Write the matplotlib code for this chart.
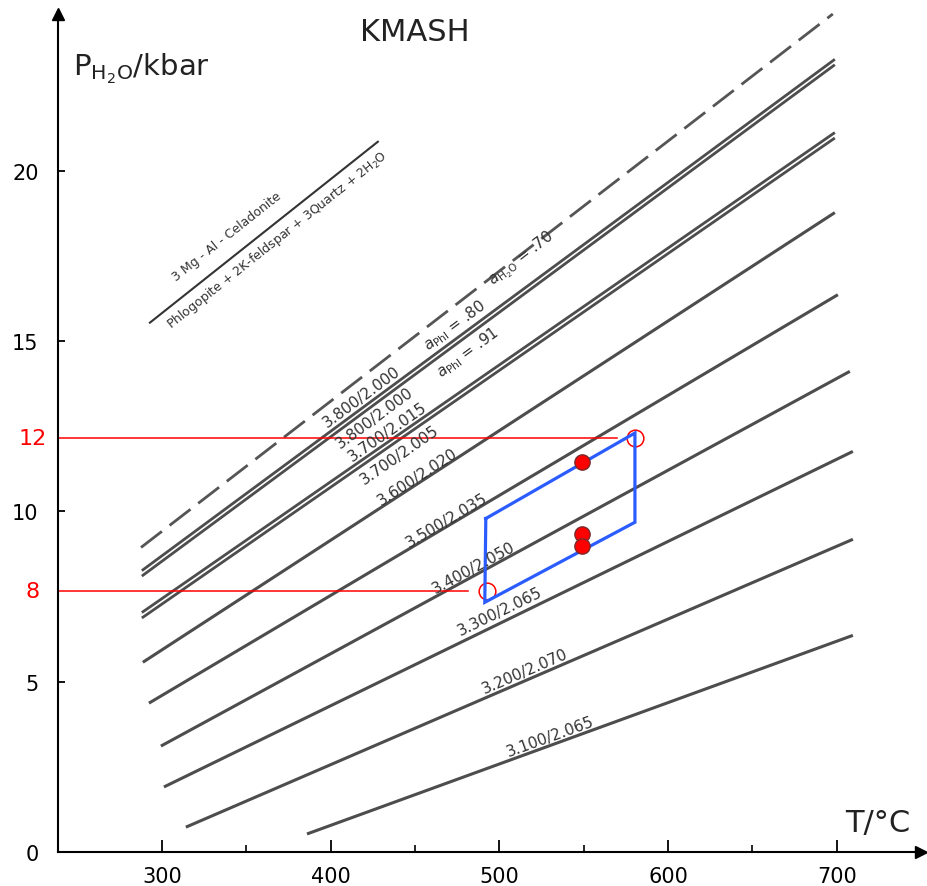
import numpy as np
import matplotlib
matplotlib.use("Agg")
import matplotlib.pyplot as plt

# single isopleths (Si / Al labels), end points in T (degC) / P (kbar)
iso_names = ["3.600/2.020", "3.500/2.035", "3.400/2.050",
             "3.300/2.065", "3.200/2.070", "3.100/2.065"]
iso_t0 = [288.7, 292.3, 299.4, 301.2, 314.2, 386.0]
iso_p0 = [5.57, 4.37, 3.11, 1.91, 0.73, 0.53]
iso_t1 = [698.9, 700.7, 707.8, 709.6, 709.6, 709.6]
iso_p1 = [18.77, 16.36, 14.11, 11.76, 9.18, 6.36]
iso_lab_t = [451.7, 468.9, 484.9, 500.4, 515.2, 530.0]
iso_lab_p = [11.03, 9.74, 8.36, 7.07, 5.31, 3.40]

# double isopleths (a_Phl = .80 / .91)
pair_t0 = [288.1, 288.1]
pair_p0 = [8.18, 6.95]
pair_t1 = [698.9, 698.9]
pair_p1 = [23.19, 21.04]
pair_gap = 0.16
pair_names = [["3.800/2.000", "3.800/2.000"], ["3.700/2.015", "3.700/2.005"]]
pair_lab_t = [[418.6, 426.3], [434.0, 441.1]]
pair_lab_p = [[13.37, 12.76], [12.35, 11.67]]

# a_H2O = .70 dashed line
h2o_t = [287.6, 697.7]
h2o_p = [8.94, 24.60]

# reaction line
rx_t = [292.9, 428.0]
rx_p = [15.54, 20.85]

# overlay: P-T box, sample points, pressure marks
box_t = [492.0, 491.4, 580.4, 580.4, 492.0]
box_p = [9.79, 7.33, 9.68, 12.30, 9.79]
pts_t = [549.0, 549.0, 549.0]
pts_p = [11.44, 9.33, 8.97]
mark_t = [580.4, 492.6]
mark_p = [12.15, 7.65]
mark_line_end = [569.7, 481.4]
mark_labels = ["12", "8"]

fig = plt.figure(figsize=(9.28, 8.87), dpi=100)
ax = fig.add_axes([0.0625, 0.0383, 0.930, 0.9448])
ax.set_xlim(238.4, 750)
ax.set_ylim(0, 24.6)

for s in ["top", "right"]:
    ax.spines[s].set_visible(False)
for s in ["left", "bottom"]:
    ax.spines[s].set_linewidth(1.5)
ax.plot(1, 0, ">k", ms=9, transform=ax.transAxes, clip_on=False)
ax.plot(0, 1, "^k", ms=9, transform=ax.transAxes, clip_on=False)

ax.set_xticks([300, 400, 500, 600, 700])
ax.set_xticks([350, 450, 550, 650], minor=True)
ax.set_yticks([0, 5, 10, 15, 20])
ax.tick_params(axis="x", which="major", direction="in", length=9, width=1.3,
               labelsize=15, pad=10)
ax.tick_params(axis="x", which="minor", direction="in", length=5, width=1.2)
ax.tick_params(axis="y", direction="in", length=5, width=1.3, labelsize=15, pad=14)


def angle(t0, p0, t1, p1):
    a = ax.transData.transform([(t0, p0), (t1, p1)])
    return np.degrees(np.arctan2(a[1, 1] - a[0, 1], a[1, 0] - a[0, 0]))


lc = "#4d4d4d"
lab_kw = dict(fontsize=11, color="#333333", ha="center", va="center",
              rotation_mode="anchor")

for i in range(len(iso_names)):
    ax.plot([iso_t0[i], iso_t1[i]], [iso_p0[i], iso_p1[i]], color=lc, lw=2.2,
            solid_capstyle="butt", clip_on=False)
    r = angle(iso_t0[i], iso_p0[i], iso_t1[i], iso_p1[i])
    ax.text(iso_lab_t[i], iso_lab_p[i], iso_names[i], rotation=r, **lab_kw)

for i in range(len(pair_t0)):
    for d in [pair_gap / 2, -pair_gap / 2]:
        ax.plot([pair_t0[i], pair_t1[i]], [pair_p0[i] + d, pair_p1[i] + d],
                color=lc, lw=2.0, solid_capstyle="butt", clip_on=False)
    r = angle(pair_t0[i], pair_p0[i], pair_t1[i], pair_p1[i])
    for j in range(2):
        ax.text(pair_lab_t[i][j], pair_lab_p[i][j], pair_names[i][j], rotation=r, **lab_kw)

ax.plot(h2o_t, h2o_p, color="#555555", lw=2.0, dashes=(9.5, 3.5), clip_on=False)
r = angle(h2o_t[0], h2o_p[0], h2o_t[1], h2o_p[1])
ax.text(513.4, 17.45, r"$a_{\mathrm{H_2O}}$ = .70", rotation=r, **lab_kw)
r2 = angle(pair_t0[0], pair_p0[0], pair_t1[0], pair_p1[0])
ax.text(473.7, 15.48, r"$a_{\mathrm{Phl}}$ = .80", rotation=r2, **lab_kw)
ax.text(481.4, 14.69, r"$a_{\mathrm{Phl}}$ = .91", rotation=r2, **lab_kw)

ax.plot(rx_t, rx_p, color="#333333", lw=1.5)
r = angle(rx_t[0], rx_p[0], rx_t[1], rx_p[1])
rx_kw = dict(fontsize=9, color="#333333", ha="center", va="center",
             rotation=r, rotation_mode="anchor")
ax.text(338.5, 18.09, "3 Mg - Al - Celadonite", **rx_kw)
ax.text(368.5, 17.99, r"Phlogopite + 2K-feldspar + 3Quartz + 2H$_2$O", **rx_kw)

# overlay
for t, p, te, lab in zip(mark_t, mark_p, mark_line_end, mark_labels):
    ax.plot([ax.get_xlim()[0], te], [p, p], color="red", lw=1.1)
    ax.plot(t, p, "o", ms=12, mfc="none", mec="red", mew=1.1)
    ax.text(-0.029, p, lab, color="red", fontsize=16, ha="center", va="center",
            transform=ax.get_yaxis_transform(), clip_on=False)
ax.plot(box_t, box_p, color="#2a5cff", lw=2.3, solid_joinstyle="miter")
ax.plot(pts_t, pts_p, "o", ms=11, mfc="red", mec="#7a2a2a", mew=1.0, ls="none")

ax.text(450, 24.1, "KMASH", fontsize=22, ha="center", va="center", color="#222222")
ax.text(247, 22.8, r"P$_{\mathrm{H_2O}}$/kbar", fontsize=21, color="#222222",
        va="baseline")
fig.text(878 / 928, 55 / 887, "T/°C", fontsize=22, color="#222222",
         ha="center", va="baseline")
fig.savefig("out.png", dpi=100)
